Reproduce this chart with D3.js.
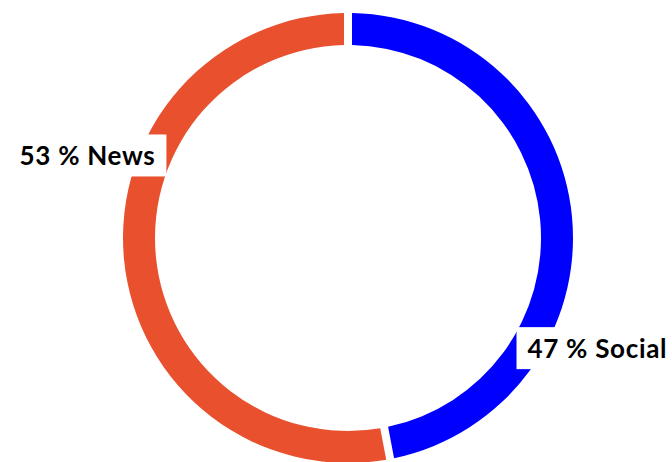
<!DOCTYPE html>
<html>
  <head>
    <meta charset="utf-8">
    <title>Donut</title>
    <script src="https://d3js.org/d3.v7.min.js"></script>
    <style>
      body { margin: 0; background: #fff; }
      text { font-family: Lato, "Open Sans", sans-serif; font-weight: 700; letter-spacing: 0.7px; }
    </style>
  </head>
  <body>
    <div id="chart"></div>
    <script>
      var categories = ["Social", "News"];
      var values = [47, 53];
      var colors = ["#0000ff", "#e8502e"];

      var width = 672, height = 462;
      var cx = 348, cy = 238;
      var outerR = 225, innerR = 193;
      // labels sit a bit clockwise of the slice middle
      var labelShift = [29.4, 22.8];
      var labelR = 273;

      var svg = d3.select("#chart").append("svg")
        .attr("width", width)
        .attr("height", height);

      var g = svg.append("g").attr("transform", "translate(" + cx + "," + cy + ")");

      var pie = d3.pie().sort(null).value(function(d) { return d; });
      var arcs = pie(values);

      var arc = d3.arc()
        .innerRadius(innerR)
        .outerRadius(outerR)
        .padAngle(0.027);

      g.selectAll("path.slice")
        .data(arcs)
        .enter()
        .append("path")
        .attr("class", "slice")
        .attr("d", arc)
        .attr("fill", function(d, i) { return colors[i]; });

      var labels = g.selectAll("g.label")
        .data(arcs)
        .enter()
        .append("g")
        .attr("class", "label")
        .attr("transform", function(d, i) {
          var a = (d.startAngle + d.endAngle) / 2 + labelShift[i] * Math.PI / 180;
          return "translate(" + (labelR * Math.sin(a)) + "," + (-labelR * Math.cos(a)) + ")";
        });

      var rects = labels.append("rect").attr("fill", "#fff");

      var texts = labels.append("text")
        .attr("text-anchor", "middle")
        .attr("dy", "0.35em")
        .style("font-size", "26px")
        .attr("fill", "#000")
        .text(function(d, i) { return values[i] + " % " + categories[i]; });

      texts.each(function() {
        var b = this.getBBox();
        d3.select(this.previousSibling)
          .attr("x", b.x - 11)
          .attr("y", b.y - 5)
          .attr("width", b.width + 22)
          .attr("height", b.height + 10);
      });
    </script>
  </body>
</html>
